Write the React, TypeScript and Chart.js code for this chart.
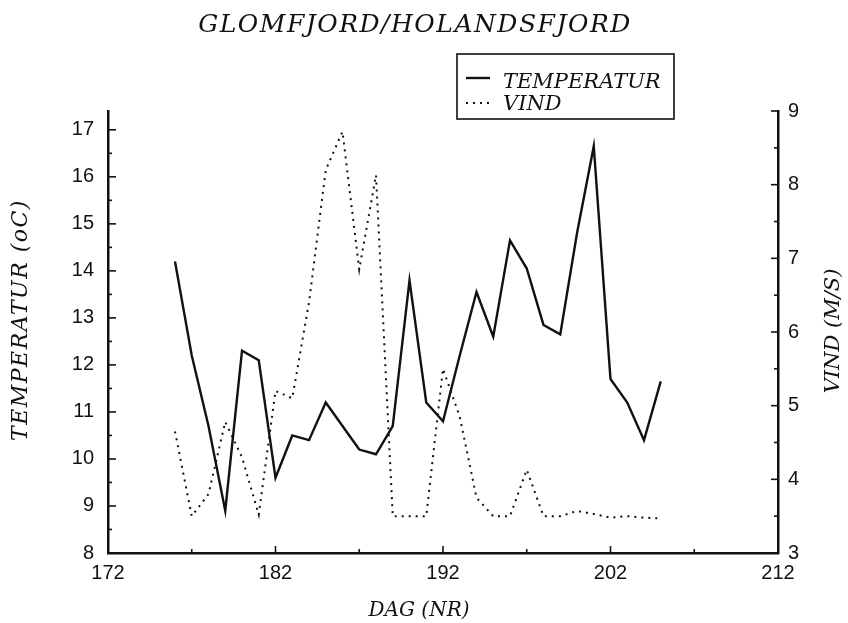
import { useEffect, useRef } from "react";
import { Chart, registerables } from "chart.js";

Chart.register(...registerables);

// ---- data ----
const DAYS = [176, 177, 178, 179, 180, 181, 182, 183, 184, 185, 186, 187, 188, 189, 190,
  191, 192, 193, 194, 195, 196, 197, 198, 199, 200, 201, 202, 203, 204, 205];
const TEMPERATUR = [14.2, 12.2, 10.7, 8.9, 12.3, 12.1, 9.6, 10.5, 10.4, 11.2, 10.7, 10.2, 10.1, 10.7, 13.8,
  11.2, 10.8, 12.2, 13.55, 12.6, 14.65, 14.05, 12.85, 12.65, 14.8, 16.65, 11.7, 11.2, 10.4, 11.65];
const VIND = [4.65, 3.5, 3.8, 4.78, 4.3, 3.52, 5.2, 5.1, 6.4, 8.2, 8.72, 6.85, 8.13, 3.5, 3.5,
  3.5, 5.5, 4.85, 3.75, 3.5, 3.5, 4.13, 3.5, 3.5, 3.57, 3.53, 3.48, 3.5, 3.48, 3.47];

const X_MIN = 172;
const X_MAX = 212;
const X_STEP = 10;
const Y_MIN = 8;
const Y_MAX = 17.4;
const Y1_MIN = 3;
const Y1_MAX = 9;

const TITLE = "GLOMFJORD/HOLANDSFJORD";
const X_TITLE = "DAG (NR)";
const Y_TITLE = "TEMPERATUR (oC)";
const Y1_TITLE = "VIND (M/S)";
const SERIES_NAMES = ["TEMPERATUR", "VIND"];

const INK = "#111";
const SERIF = '"DejaVu Serif", "Liberation Serif", serif';
const SANS = '"Liberation Sans", Arial, sans-serif';

const decorPlugin = {
  id: "decor",
  afterDraw(chart: any) {
    const { ctx, chartArea, scales } = chart;
    const { left, right, bottom } = chartArea;
    ctx.save();
    ctx.strokeStyle = INK;
    ctx.fillStyle = INK;
    ctx.lineWidth = 1.6;

    // inward major / minor tick marks
    const xs = scales.x;
    for (let v = X_MIN + 5; v < X_MAX; v += 5) {
      const px = xs.getPixelForValue(v);
      const len = (v - X_MIN) % 10 === 0 ? 7 : 4;
      ctx.beginPath();
      ctx.moveTo(px, bottom);
      ctx.lineTo(px, bottom - len);
      ctx.stroke();
    }
    const ys = scales.y;
    for (let v = Y_MIN + 0.5; v <= 17; v += 0.5) {
      const py = ys.getPixelForValue(v);
      const len = Number.isInteger(v) ? 8 : 4;
      ctx.beginPath();
      ctx.moveTo(left, py);
      ctx.lineTo(left + len, py);
      ctx.stroke();
    }
    const y1 = scales.y1;
    for (let v = Y1_MIN + 0.5; v <= Y1_MAX; v += 0.5) {
      const py = y1.getPixelForValue(v);
      const len = Number.isInteger(v) ? 7 : 4;
      ctx.beginPath();
      ctx.moveTo(right, py);
      ctx.lineTo(right - len, py);
      ctx.stroke();
    }

    // chart title
    ctx.textAlign = "center";
    ctx.textBaseline = "alphabetic";
    ctx.font = `italic 25px ${SERIF}`;
    (ctx as any).letterSpacing = "1.5px";
    ctx.fillText(TITLE, 415, 32);

    // axis titles
    (ctx as any).letterSpacing = "1.5px";
    ctx.textBaseline = "middle";
    ctx.font = `italic 22px ${SERIF}`;
    ctx.save();
    ctx.translate(21, 320);
    ctx.rotate(-Math.PI / 2);
    ctx.fillText(Y_TITLE, 0, 0);
    ctx.restore();

    (ctx as any).letterSpacing = "0px";
    ctx.font = `italic 21px ${SERIF}`;
    ctx.save();
    ctx.translate(834, 331);
    ctx.rotate(-Math.PI / 2);
    ctx.fillText(Y1_TITLE, 0, 0);
    ctx.restore();

    ctx.font = `italic 20px ${SERIF}`;
    ctx.fillText(X_TITLE, 419, 611);

    // legend box
    ctx.lineWidth = 1.6;
    ctx.fillStyle = "#fff";
    ctx.fillRect(457, 54, 217, 65);
    ctx.strokeRect(457, 54, 217, 65);
    ctx.fillStyle = INK;
    ctx.textAlign = "left";
    ctx.textBaseline = "alphabetic";
    ctx.font = `italic 21px ${SERIF}`;
    const rows = [78, 103];
    const baselines = [88, 110];
    chart.data.datasets.forEach((ds: any, i: number) => {
      ctx.save();
      ctx.strokeStyle = ds.borderColor;
      ctx.lineWidth = ds.borderWidth;
      ctx.setLineDash(ds.borderDash || []);
      ctx.beginPath();
      ctx.moveTo(466, rows[i]);
      ctx.lineTo(490, rows[i]);
      ctx.stroke();
      ctx.restore();
      ctx.fillText(SERIES_NAMES[i], 503, baselines[i]);
    });
    ctx.restore();
  },
};

export default function App() {
  const ref = useRef<HTMLCanvasElement | null>(null);

  useEffect(() => {
    document.body.style.margin = "0";
    const canvas = ref.current;
    if (!canvas) return;
    const chart = new Chart(canvas, {
      type: "line",
      data: {
        datasets: [
          {
            label: SERIES_NAMES[0],
            data: DAYS.map((d, i) => ({ x: d, y: TEMPERATUR[i] })),
            yAxisID: "y",
            borderColor: INK,
            borderWidth: 2.4,
            pointRadius: 0,
            tension: 0,
            fill: false,
          },
          {
            label: SERIES_NAMES[1],
            data: DAYS.map((d, i) => ({ x: d, y: VIND[i] })),
            yAxisID: "y1",
            borderColor: "#111",
            borderWidth: 2,
            borderDash: [2, 5],
            pointRadius: 0,
            tension: 0,
            fill: false,
          },
        ],
      },
      options: {
        responsive: false,
        animation: false,
        layout: { padding: { top: 111, left: 0, right: 0, bottom: 0 } },
        plugins: {
          legend: { display: false },
          title: { display: false },
          tooltip: { enabled: false },
        },
        scales: {
          x: {
            type: "linear",
            min: X_MIN,
            max: X_MAX,
            grid: { display: false, drawTicks: false },
            border: { display: true, color: INK, width: 2.5 },
            ticks: {
              stepSize: X_STEP,
              padding: 8,
              color: INK,
              font: { family: SANS, size: 20 },
              maxRotation: 0,
              autoSkip: false,
            },
            afterFit: (s: any) => { s.height = 70; },
          },
          y: {
            type: "linear",
            position: "left",
            min: Y_MIN,
            max: Y_MAX,
            grid: { display: false, drawTicks: false },
            border: { display: true, color: INK, width: 2.5 },
            ticks: {
              stepSize: 1,
              includeBounds: false,
              padding: 14,
              color: INK,
              font: { family: SANS, size: 20 },
            },
            afterFit: (s: any) => { s.width = 108; },
          },
          y1: {
            type: "linear",
            position: "right",
            min: Y1_MIN,
            max: Y1_MAX,
            grid: { display: false, drawTicks: false },
            border: { display: true, color: INK, width: 2.5 },
            ticks: {
              stepSize: 1,
              padding: 10,
              color: INK,
              font: { family: SANS, size: 20 },
            },
            afterFit: (s: any) => { s.width = 70; },
          },
        },
      },
      plugins: [decorPlugin],
    });
    return () => chart.destroy();
  }, []);

  return (
    <div style={{ width: 848, height: 623, background: "#fff" }}>
      <canvas ref={ref} width={848} height={623} style={{ display: "block" }} />
    </div>
  );
}
